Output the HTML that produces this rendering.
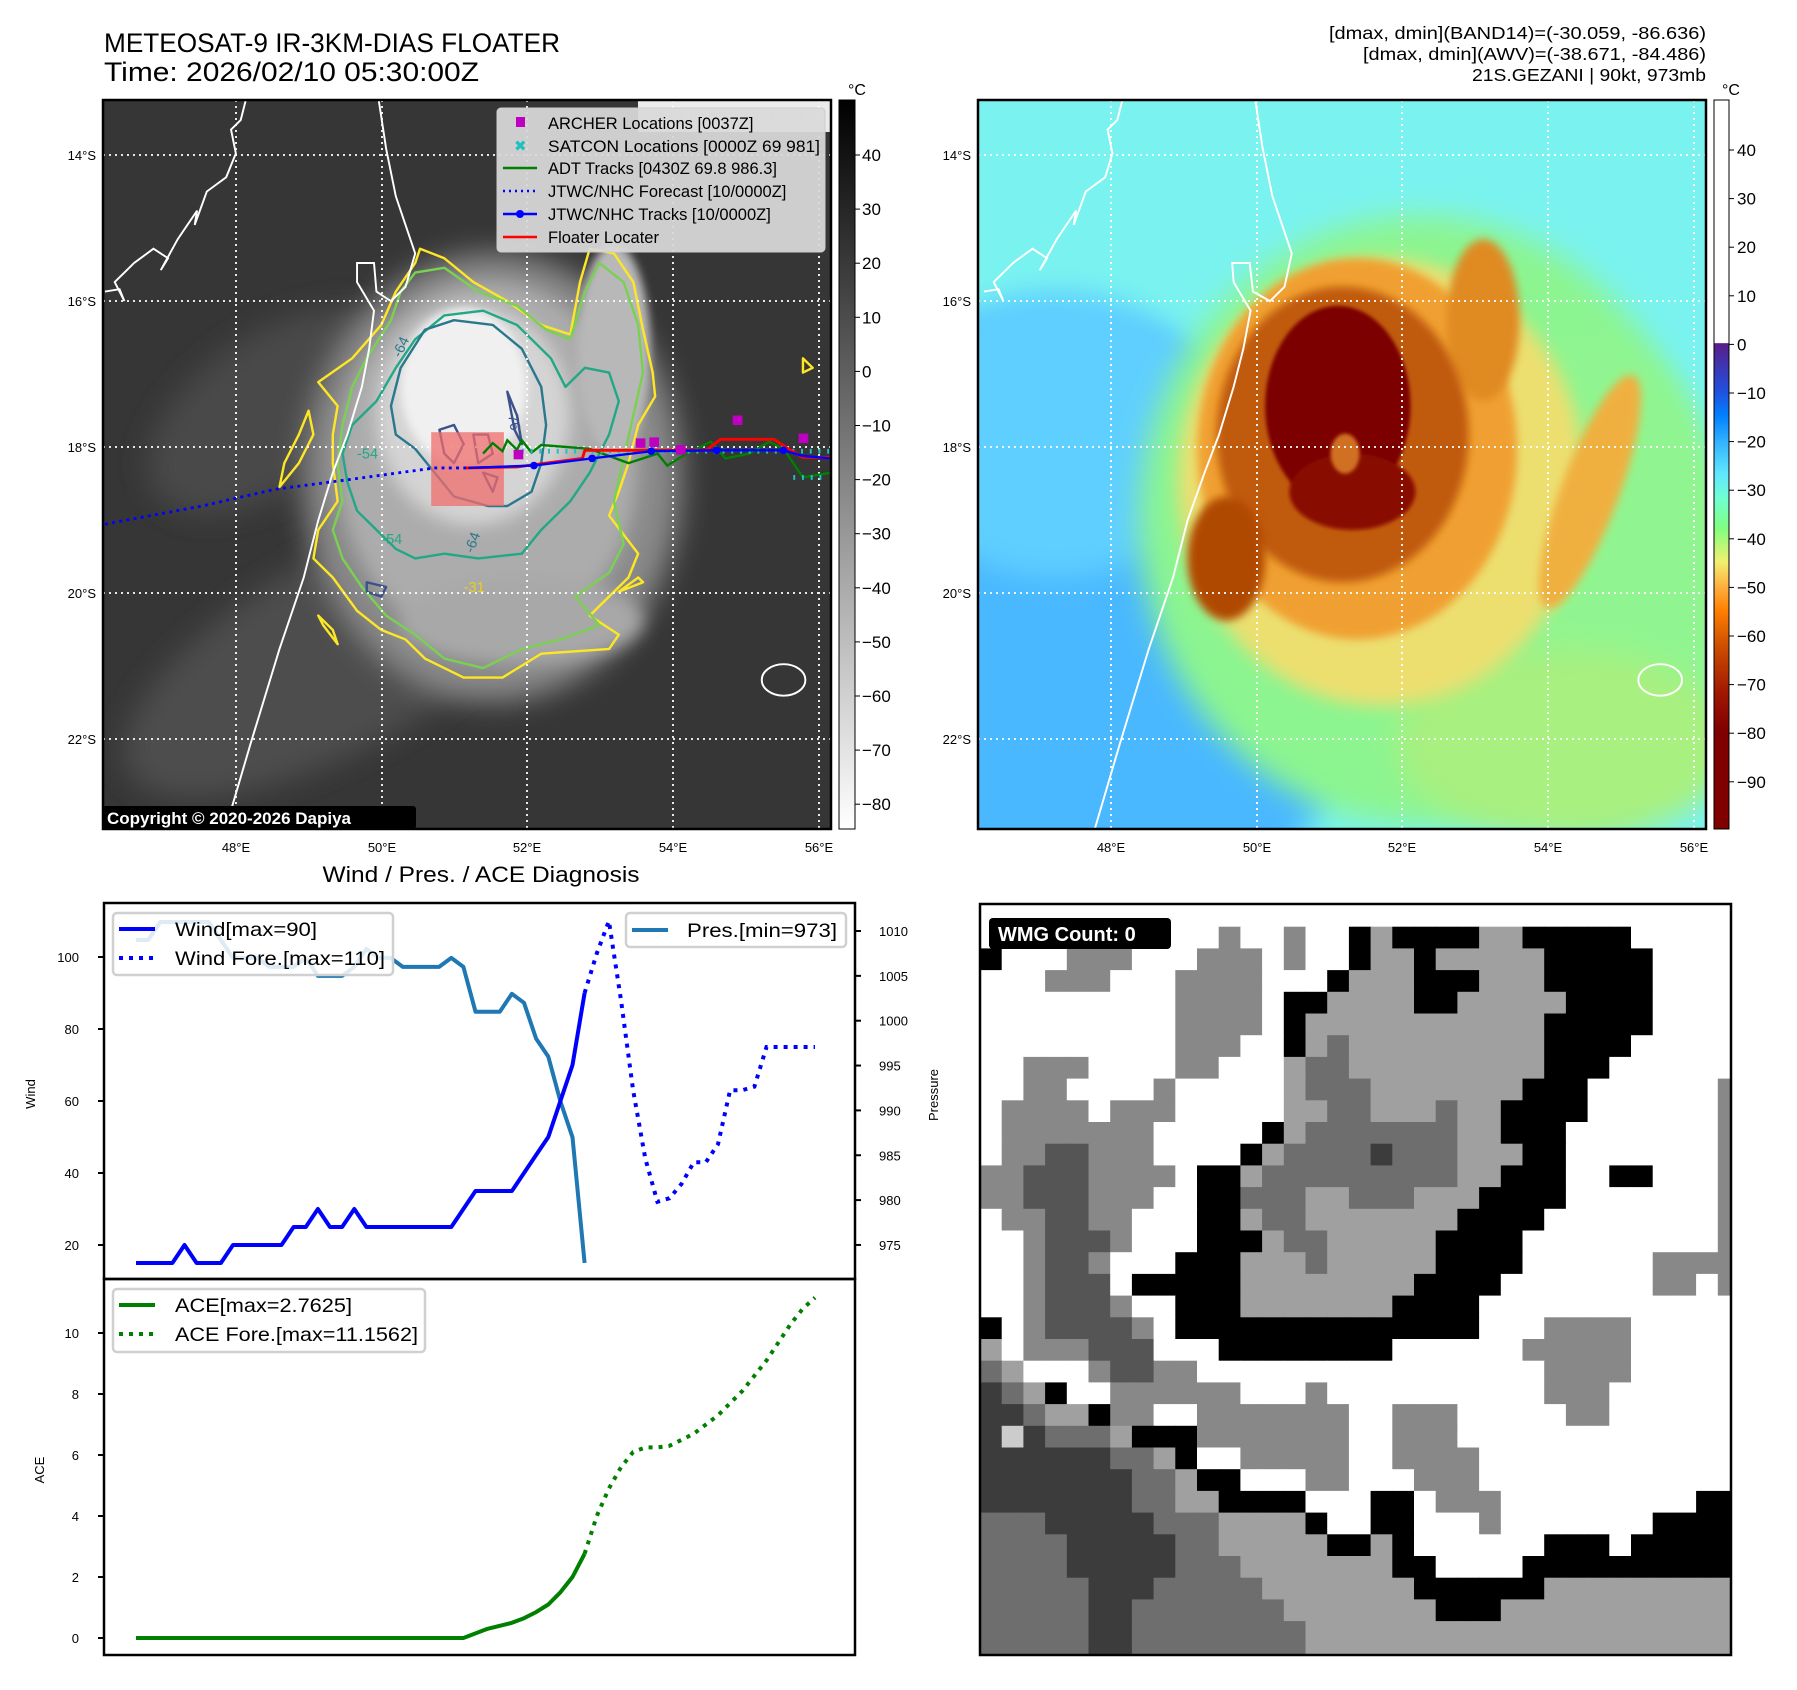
<!DOCTYPE html>
<html><head><meta charset="utf-8"><title>Gezani diagnostics</title>
<style>
html,body{margin:0;padding:0;background:#fff;}
svg{display:block;font-family:"Liberation Sans","DejaVu Sans",sans-serif;}
</style></head>
<body>
<svg id="root" width="1797" height="1690" viewBox="0 0 1797 1690" xmlns="http://www.w3.org/2000/svg">
<defs>
  <clipPath id="clipL"><rect x="103" y="100" width="728" height="729"/></clipPath>
  <clipPath id="clipR"><rect x="978" y="100" width="728" height="729"/></clipPath>
  <clipPath id="clipW"><rect x="980" y="904" width="751" height="751"/></clipPath>
  <filter id="b60" x="-50%" y="-50%" width="200%" height="200%"><feGaussianBlur stdDeviation="30"/></filter>
  <filter id="b30" x="-50%" y="-50%" width="200%" height="200%"><feGaussianBlur stdDeviation="18"/></filter>
  <filter id="b15" x="-50%" y="-50%" width="200%" height="200%"><feGaussianBlur stdDeviation="9"/></filter>
  <filter id="b6" x="-50%" y="-50%" width="200%" height="200%"><feGaussianBlur stdDeviation="4"/></filter>
  <linearGradient id="cb1" x1="0" y1="0" x2="0" y2="1">
    <stop offset="0" stop-color="#000"/><stop offset="1" stop-color="#fff"/>
  </linearGradient>
  <linearGradient id="cb2" x1="0" y1="0" x2="0" y2="1">
    <stop offset="0" stop-color="#fff"/><stop offset="0.333" stop-color="#fff"/>
    <stop offset="0.334" stop-color="#5a1e8a"/><stop offset="0.40" stop-color="#2050e0"/>
    <stop offset="0.433" stop-color="#0080ff"/><stop offset="0.467" stop-color="#30b0ff"/>
    <stop offset="0.513" stop-color="#60e8ff"/><stop offset="0.547" stop-color="#70ffd0"/>
    <stop offset="0.587" stop-color="#80ff80"/><stop offset="0.633" stop-color="#f0f070"/>
    <stop offset="0.667" stop-color="#ffb040"/><stop offset="0.70" stop-color="#ff8000"/>
    <stop offset="0.747" stop-color="#d05000"/><stop offset="0.813" stop-color="#a01800"/>
    <stop offset="0.867" stop-color="#800000"/><stop offset="1" stop-color="#800000"/>
  </linearGradient>
</defs>

<!-- titles -->
<text x="104" y="52" font-size="27" textLength="456" lengthAdjust="spacingAndGlyphs">METEOSAT-9 IR-3KM-DIAS FLOATER</text>
<text x="104" y="81" font-size="27" textLength="375" lengthAdjust="spacingAndGlyphs">Time: 2026/02/10 05:30:00Z</text>
<g font-size="17.5" text-anchor="end">
  <text x="1706" y="39" textLength="377" lengthAdjust="spacingAndGlyphs">[dmax, dmin](BAND14)=(-30.059, -86.636)</text>
  <text x="1706" y="60" textLength="343" lengthAdjust="spacingAndGlyphs">[dmax, dmin](AWV)=(-38.671, -84.486)</text>
  <text x="1706" y="81" textLength="234" lengthAdjust="spacingAndGlyphs">21S.GEZANI | 90kt, 973mb</text>
</g>

<!-- LEFT MAP -->
<g>
<g clip-path="url(#clipL)">
  <rect x="103" y="100" width="728" height="729" fill="#363636"/>
  <g transform="translate(105,101) scale(0.4847,0.4765)">
    <ellipse cx="500" cy="1150" rx="520" ry="200" transform="rotate(-30 500 1150)" fill="#4e4e4e" filter="url(#b60)"/>
    <ellipse cx="350" cy="650" rx="300" ry="160" transform="rotate(-35 350 650)" fill="#4a4a4a" filter="url(#b60)"/>
    <ellipse cx="800" cy="790" rx="390" ry="470" fill="#8a8a8a" filter="url(#b60)"/>
    <ellipse cx="790" cy="760" rx="310" ry="380" fill="#acacac" filter="url(#b30)"/>
    <ellipse cx="1050" cy="520" rx="75" ry="220" fill="#b8b8b8" filter="url(#b15)"/>
    <ellipse cx="860" cy="1090" rx="250" ry="90" fill="#a8a8a8" filter="url(#b30)"/>
    <ellipse cx="760" cy="660" rx="200" ry="230" fill="#d4d4d4" filter="url(#b30)"/>
    <ellipse cx="740" cy="600" rx="130" ry="165" fill="#f0f0f0" filter="url(#b15)"/>
    <g fill="none" stroke-width="5" stroke-linejoin="round">
      <path stroke="#fde725" d="M650,310 L700,330 760,380 830,420 900,470 960,490 980,380 1000,310 1050,320 1090,380 1110,480 1130,570 1135,620 1100,680 1080,760 1060,820 1040,870 1100,950 1080,1000 1000,1080 1060,1120 1040,1150 900,1160 820,1210 740,1210 660,1170 620,1130 570,1110 520,1070 470,1000 430,960 440,900 480,840 470,760 470,700 480,640 440,590 510,540 570,470 600,400 640,340 Z"/>
      <path stroke="#fde725" d="M360,810 L400,760 430,700 420,650 400,700 370,760 Z M440,1080 L470,1110 480,1140 450,1100 Z M1440,540 L1460,560 1440,570 Z M1100,1000 L1060,1030 1110,1010 Z"/>
      <path stroke="#7ad151" d="M640,360 L700,350 770,400 850,430 910,480 960,500 990,400 1020,340 1070,380 1100,470 1110,570 1090,660 1070,750 1050,840 1070,930 1040,990 970,1040 1020,1100 940,1130 860,1150 780,1190 700,1170 640,1120 580,1080 530,1020 490,960 470,900 490,840 480,760 490,680 510,600 540,540 590,460 610,400 Z"/>
      <path stroke="#22a884" d="M600,560 L640,500 700,450 780,440 850,470 920,540 950,600 990,560 1040,570 1060,630 1040,700 1000,780 960,840 900,900 860,950 770,960 700,950 640,960 600,940 560,900 520,860 500,800 490,740 510,680 560,630 Z"/>
      <path stroke="#2a788e" d="M610,560 L660,480 720,460 800,470 860,520 900,600 910,680 900,760 880,820 830,850 790,850 720,830 680,780 640,730 600,700 590,640 Z"/>
      <path stroke="#3b528b" d="M690,690 L720,680 740,720 720,760 700,740 Z M760,700 L790,700 800,740 770,760 Z M830,610 L850,660 860,720 845,690 Z M780,780 L810,790 800,820 Z M540,1010 L580,1020 570,1040 540,1030 Z"/>
    </g>
    <g font-size="30">
      <text x="610" y="540" fill="#2a788e" transform="rotate(-65 610 540)">-64</text>
      <text x="830" y="650" fill="#3b528b" transform="rotate(80 830 650)">-76</text>
      <text x="520" y="750" fill="#22a884">-54</text>
      <text x="570" y="930" fill="#22a884">-54</text>
      <text x="740" y="1030" fill="#e8d020">-31</text>
      <text x="760" y="950" fill="#2a788e" transform="rotate(-70 760 950)">-64</text>
    </g>
    <g fill="none" stroke="#fff" stroke-width="4">
      <path d="M245,1540 L300,1350 360,1150 410,1000 440,880 470,780 500,700 530,600 545,520 555,440 520,380 520,340 555,340 560,400 590,420 620,390 640,320 620,260 600,200 580,100 565,0"/>
      <path d="M0,400 L30,395 40,420 20,380 60,340 100,310 130,330 115,355 150,290 190,230 185,260 210,190 250,160 270,110 260,60 280,40 290,0"/>
      <ellipse cx="1400" cy="1215" rx="45" ry="33"/>
    </g>
  </g>
  <g stroke="#fff" stroke-width="1.8" stroke-dasharray="2,4">
    <line x1="236" y1="100" x2="236" y2="829"/><line x1="382" y1="100" x2="382" y2="829"/>
    <line x1="527" y1="100" x2="527" y2="829"/><line x1="673" y1="100" x2="673" y2="829"/>
    <line x1="819" y1="100" x2="819" y2="829"/>
    <line x1="103" y1="155" x2="831" y2="155"/><line x1="103" y1="301" x2="831" y2="301"/>
    <line x1="103" y1="447" x2="831" y2="447"/><line x1="103" y1="593" x2="831" y2="593"/>
    <line x1="103" y1="739" x2="831" y2="739"/>
  </g>
  <g transform="translate(105,101) scale(0.4847,0.4765)">
    <rect x="673" y="695" width="150" height="155" fill="rgb(240,110,110)" fill-opacity="0.75"/>
    <path d="M0,888 L200,850 350,815 500,795 680,770 750,770" fill="none" stroke="#00f" stroke-width="6" stroke-dasharray="6,9"/>
    <path d="M780,740 L800,718 820,735 830,712 850,732 860,712 880,738 900,722 1000,730 1080,760 1140,740 1160,765 1200,740 1250,715 1280,750 1330,740 1370,715 1400,730 1440,790 1497,780" fill="none" stroke="#008000" stroke-width="5"/>
    <path d="M860,735 L1497,735 M1420,790 L1490,790" fill="none" stroke="#1fc0c0" stroke-width="10" stroke-dasharray="4,14"/>
    <path d="M745,770 L850,768 985,750 990,733 1240,733 1270,710 1380,710 1410,730 1440,748 1497,748" fill="none" stroke="#f00" stroke-width="6"/>
    <path d="M750,770 L885,765 1005,750 1127,735 1262,733 1400,733 1440,745 1497,750" fill="none" stroke="#00f" stroke-width="5"/>
    <g fill="#00f"><circle cx="885" cy="765" r="8"/><circle cx="1005" cy="750" r="8"/><circle cx="1127" cy="735" r="8"/><circle cx="1262" cy="733" r="8"/><circle cx="1400" cy="733" r="8"/></g>
    <g fill="#c000c0"><rect x="843" y="732" width="20" height="20"/><rect x="1095" y="708" width="20" height="20"/><rect x="1123" y="706" width="20" height="20"/><rect x="1178" y="722" width="20" height="20"/><rect x="1295" y="660" width="20" height="20"/><rect x="1431" y="698" width="20" height="20"/></g>
  </g>
  <rect x="638" y="100" width="192" height="32" fill="#fff" fill-opacity="0.9"/>
  <text x="652" y="124" font-size="17" font-weight="bold" fill="#ddd">© EUMETSAT 2026</text>
</g>
<rect x="103" y="100" width="728" height="729" fill="none" stroke="#000" stroke-width="2.5"/>
<!-- legend -->
<g>
  <rect x="497" y="108" width="328" height="144" rx="4" fill="#d9d9d9" fill-opacity="0.93" stroke="#ccc"/>
  <g font-size="16.5">
    <rect x="516" y="117" width="9" height="10" fill="#c000c0"/><text x="548" y="129">ARCHER Locations [0037Z]</text>
    <text x="514" y="151" fill="#1fc0c0" font-weight="bold" font-size="15">✖</text><text x="548" y="152" textLength="272" lengthAdjust="spacingAndGlyphs">SATCON Locations [0000Z 69 981]</text>
    <line x1="503" y1="168" x2="537" y2="168" stroke="#008000" stroke-width="2.5"/><text x="548" y="174">ADT Tracks [0430Z 69.8 986.3]</text>
    <line x1="503" y1="191" x2="537" y2="191" stroke="#00f" stroke-width="2.5" stroke-dasharray="2,4"/><text x="548" y="197">JTWC/NHC Forecast [10/0000Z]</text>
    <line x1="503" y1="214" x2="537" y2="214" stroke="#00f" stroke-width="2.5"/><circle cx="520" cy="214" r="4" fill="#00f"/><text x="548" y="220">JTWC/NHC Tracks [10/0000Z]</text>
    <line x1="503" y1="237" x2="537" y2="237" stroke="#f00" stroke-width="2.5"/><text x="548" y="243">Floater Locater</text>
  </g>
</g>
<rect x="103" y="806" width="313" height="23" rx="3" fill="#000"/>
<text x="107" y="824" font-size="17" font-weight="bold" fill="#fff">Copyright © 2020-2026 Dapiya</text>
<g font-size="13" text-anchor="end">
  <text x="96" y="160">14°S</text><text x="96" y="306">16°S</text><text x="96" y="452">18°S</text><text x="96" y="598">20°S</text><text x="96" y="744">22°S</text>
</g>
<g font-size="13" text-anchor="middle">
  <text x="236" y="852">48°E</text><text x="382" y="852">50°E</text><text x="527" y="852">52°E</text><text x="673" y="852">54°E</text><text x="819" y="852">56°E</text>
</g>
<!-- colorbar 1 -->
<g>
  <rect x="839" y="100" width="16" height="729" fill="url(#cb1)" stroke="#000" stroke-width="1"/>
  <text x="848" y="95" font-size="16">°C</text>
  <g id="cb1ticks" font-size="17"></g>
</g>

<!-- RIGHT MAP -->
<g>
<g clip-path="url(#clipR)">
  <rect x="978" y="100" width="728" height="729" fill="#7af3f0"/>
  <g transform="translate(984,101) scale(0.4847,0.4765)">
    <ellipse cx="120" cy="1150" rx="650" ry="700" fill="#48b8ff" filter="url(#b60)"/>
    <ellipse cx="150" cy="700" rx="350" ry="300" fill="#5fcfff" filter="url(#b60)"/>
    <ellipse cx="900" cy="880" rx="580" ry="640" fill="#8cf590" filter="url(#b60)"/>
    <ellipse cx="1250" cy="1000" rx="300" ry="500" fill="#90f590" filter="url(#b60)"/>
    <ellipse cx="1200" cy="1350" rx="350" ry="200" fill="#a8f080" filter="url(#b60)"/>
    <ellipse cx="820" cy="800" rx="420" ry="470" fill="#ecdf70" filter="url(#b30)"/>
    <ellipse cx="770" cy="730" rx="330" ry="400" fill="#f0a030" filter="url(#b15)"/>
    <ellipse cx="1030" cy="460" rx="75" ry="170" fill="#e08a20" filter="url(#b15)"/>
    <ellipse cx="1250" cy="820" rx="60" ry="260" fill="#f0b040" filter="url(#b15)" transform="rotate(20 1250 820)"/>
    <ellipse cx="740" cy="700" rx="260" ry="310" fill="#c05a08" filter="url(#b15)"/>
    <ellipse cx="500" cy="960" rx="80" ry="130" fill="#b04a00" filter="url(#b15)"/>
    <ellipse cx="730" cy="640" rx="150" ry="210" fill="#7c0000" filter="url(#b6)"/>
    <ellipse cx="760" cy="820" rx="130" ry="80" fill="#880800" filter="url(#b6)"/>
    <ellipse cx="745" cy="740" rx="30" ry="42" fill="#d07020" filter="url(#b6)"/>
    <g fill="none" stroke="#fff" stroke-width="4">
      <path d="M225,1540 L280,1350 340,1150 390,1000 420,880 455,780 485,700 515,600 535,520 550,440 515,380 512,340 548,340 555,400 590,420 620,390 635,320 615,260 595,200 575,100 560,0"/>
      <path d="M0,400 L30,395 40,420 20,380 60,340 100,310 130,330 115,355 150,290 190,230 185,260 210,190 250,160 265,110 255,60 275,40 285,0"/>
      <ellipse cx="1395" cy="1215" rx="45" ry="33"/>
    </g>
  </g>
  <g stroke="#fff" stroke-width="1.8" stroke-dasharray="2,4">
    <line x1="1111" y1="100" x2="1111" y2="829"/><line x1="1257" y1="100" x2="1257" y2="829"/>
    <line x1="1402" y1="100" x2="1402" y2="829"/><line x1="1548" y1="100" x2="1548" y2="829"/>
    <line x1="1694" y1="100" x2="1694" y2="829"/>
    <line x1="978" y1="155" x2="1706" y2="155"/><line x1="978" y1="301" x2="1706" y2="301"/>
    <line x1="978" y1="447" x2="1706" y2="447"/><line x1="978" y1="593" x2="1706" y2="593"/>
    <line x1="978" y1="739" x2="1706" y2="739"/>
  </g>
</g>
<rect x="978" y="100" width="728" height="729" fill="none" stroke="#000" stroke-width="2.5"/>
</g>
<g font-size="13" text-anchor="end">
  <text x="971" y="160">14°S</text><text x="971" y="306">16°S</text><text x="971" y="452">18°S</text><text x="971" y="598">20°S</text><text x="971" y="744">22°S</text>
</g>
<g font-size="13" text-anchor="middle">
  <text x="1111" y="852">48°E</text><text x="1257" y="852">50°E</text><text x="1402" y="852">52°E</text><text x="1548" y="852">54°E</text><text x="1694" y="852">56°E</text>
</g>
<g>
  <rect x="1714" y="100" width="15" height="729" fill="url(#cb2)" stroke="#000" stroke-width="1"/>
  <text x="1722" y="95" font-size="16">°C</text>
  <g id="cb2ticks" font-size="17"></g>
</g>

<!-- DIAGNOSIS CHART -->
<text x="481" y="882" font-size="22" text-anchor="middle" textLength="317" lengthAdjust="spacingAndGlyphs">Wind / Pres. / ACE Diagnosis</text>
<g id="chart"></g>

<!-- WMG -->
<g>
  <g id="wmg" clip-path="url(#clipW)"></g>
  <rect x="980" y="904" width="751" height="751" fill="none" stroke="#000" stroke-width="2.5"/>
  <rect x="989" y="918" width="182" height="31" rx="4" fill="#000"/>
  <text x="998" y="941" font-size="20" font-weight="bold" fill="#fff">WMG Count: 0</text>
</g>
</svg>

<script>
// ---- chart data ----
const windObs = [15,15,15,15,20,15,15,15,20,20,20,20,20,25,25,30,25,25,30,25,25,25,25,25,25,25,25,30,35,35,35,35,40,45,50,60,70,90];
const windFcst = [90,101,110,88,63,44,32,33,37,43,43,48,63,63,64,75,75,75,75,75];
const presObs = [1009,1009,1011,1011,1011,1011,1011,1009,1007,1007,1007,1006,1006,1006,1007,1005,1005,1005,1006,1008,1007,1007,1006,1006,1006,1006,1007,1006,1001,1001,1001,1003,1002,998,996,991,987,973];
const aceObs = [0,0,0,0,0,0,0,0,0,0,0,0,0,0,0,0,0,0,0,0,0,0,0,0,0,0,0,0,0.15,0.3,0.4,0.5,0.65,0.85,1.1,1.5,2.0,2.76];
const aceFcst = [2.76,4.0,4.9,5.6,6.1,6.25,6.25,6.3,6.5,6.7,7.0,7.3,7.7,8.1,8.6,9.1,9.7,10.3,10.8,11.16];
const windTicks = [20,40,60,80,100];
const presTicks = [975,980,985,990,995,1000,1005,1010];
const aceTicks = [0,2,4,6,8,10];
const cb1Ticks = [40,30,20,10,0,-10,-20,-30,-40,-50,-60,-70,-80];
const cb2Ticks = [40,30,20,10,0,-10,-20,-30,-40,-50,-60,-70,-80,-90];
const wmgRows = [
"...................................",
"...........g..g..#a####aa#####.....",
"#...ggg...ggg.g..#aa#aaaaa#####....",
"...ggg...gggg...#aaa###aaa#####....",
".........gggg.##aaaa##aaaaa####....",
".........gggg.#aaaaaaaaaaa#####....",
".........ggg..#amaaaaaaaaa####.....",
"..ggg....gg...ammaaaaaaaaa###......",
"..gg....g.....ammmaaaaaaa###......g",
".gggg.ggg.....aammaaamaa####......g",
".ggggggg.....#ammmmmmmaa###.......g",
".ggddggg....#ammmmkmmmaaa##.......g",
"ggdddgggg.##ammmmmmmmmaa###..##...g",
"ggdddggg..##mmmaammmaaa####.......g",
".ggddgg...##ammaaaaaaa####........g",
"..gdddg...###ammaaaaa####.........g",
"..gddg...###aaamaaaaa####......gggg",
"..gddd.#####aaaaaaaa####.......gg.g",
"..gdddg..###aaaaaaa####............",
"#.gddddg.##############...gggg.....",
"a.gggddd...########......ggggg.....",
"ma...gddgg................gggg.....",
"kma#..gggggg...g..........ggg......",
"kkmaa#gg..ggggggg..ggg.....gg......",
"klkmmma###ggggggg..ggg.............",
"kkkkkkmma#..ggggg..gggg............",
"kkkkkkkmma##...gg...ggg............",
"kkkkkkkmmaa####...##.ggg.........##",
"mmmkkkkkmmmaaaa#..##...g.......####",
"mmmmkkkkkmmaaaaa##a#......###.#####",
"mmmmkkkkkmmmaaaaaaa##....##########",
"mmmmmkkkmmmmmaaaaaaa######aaaaaaaaa",
"mmmmmkkmmmmmmmaaaaaaa###aaaaaaaaaaa",
"mmmmmkkmmmmmmmmaaaaaaaaaaaaaaaaaaaa",
"mmmmmkkmmmmmmmmaaaaaaaaaaaaaaaaaaaa"];

const NS = "http://www.w3.org/2000/svg";
function mk(parent, tag, attrs){const e=document.createElementNS(NS,tag);for(const k in attrs)e.setAttribute(k,attrs[k]);parent.appendChild(e);return e;}

// axis functions
const xL=104, xR=855, yTop=903, ySplit=1279, yBot=1655;
function xs(i){return 136 + i*(815-136)/56;}
function yWind(v){return 957 + (100-v)*3.6;}
function yPres(v){return 931 + (1010-v)*8.97;}
function yAce(v){return 1638 - v*30.5;}
function yCb1(v){return 155 + (40-v)*5.41;}
function yCb2(v){return 150 + (40-v)*4.86;}
function fmt(v){return v<0?"\u2212"+Math.abs(v):String(v);}

// colorbar ticks
const cb1 = document.getElementById('cb1ticks');
cb1Ticks.forEach(v=>{
  const l=mk(cb1,'line',{x1:855,x2:860,y1:yCb1(v),y2:yCb1(v),stroke:'#000','stroke-width':1});
  
  
  const t=mk(cb1,'text',{x:862,y:yCb1(v)+6});
  t.textContent=fmt(v);
  
  
});
const cb2 = document.getElementById('cb2ticks');
cb2Ticks.forEach(v=>{
  const l=mk(cb2,'line',{x1:1729,x2:1734,y1:yCb2(v),y2:yCb2(v),stroke:'#000','stroke-width':1});
  
  
  const t=mk(cb2,'text',{x:1737,y:yCb2(v)+6});
  t.textContent=fmt(v);
  
  
});

// chart
const ch = document.getElementById('chart');
function poly(pts, attrs, name){
  const p=mk(ch,'polyline',Object.assign({points:pts.map(q=>q[0].toFixed(1)+','+q[1].toFixed(1)).join(' '),fill:'none'},attrs));
  
  
  return p;
}
const off = windObs.length-1;
poly(presObs.map((v,i)=>[xs(i),yPres(v)]),{stroke:'#1f77b4','stroke-width':4,'stroke-linejoin':'round'},'pressure-line');
poly(windObs.map((v,i)=>[xs(i),yWind(v)]),{stroke:'#0000ff','stroke-width':4,'stroke-linejoin':'round'},'wind-line');
poly(windFcst.map((v,i)=>[xs(i+off),yWind(v)]),{stroke:'#0000ff','stroke-width':4,'stroke-dasharray':'4,6'},'wind-forecast-line');
poly(aceObs.map((v,i)=>[xs(i),yAce(v)]),{stroke:'#008000','stroke-width':4,'stroke-linejoin':'round'},'ace-line');
poly(aceFcst.map((v,i)=>[xs(i+off),yAce(v)]),{stroke:'#008000','stroke-width':4,'stroke-dasharray':'4,6'},'ace-forecast-line');

windTicks.forEach(v=>{
  const l=mk(ch,'line',{x1:98,x2:104,y1:yWind(v),y2:yWind(v),stroke:'#000','stroke-width':2});
  
  
  const t=mk(ch,'text',{x:79,y:yWind(v)+5,'font-size':13,'text-anchor':'end'});
  t.textContent=v;
  
  
});
presTicks.forEach(v=>{
  const l=mk(ch,'line',{x1:855,x2:861,y1:yPres(v),y2:yPres(v),stroke:'#000','stroke-width':2});
  
  
  const t=mk(ch,'text',{x:879,y:yPres(v)+5,'font-size':13});
  t.textContent=v;
  
  
});
aceTicks.forEach(v=>{
  const l=mk(ch,'line',{x1:98,x2:104,y1:yAce(v),y2:yAce(v),stroke:'#000','stroke-width':2});
  
  
  const t=mk(ch,'text',{x:79,y:yAce(v)+5,'font-size':13,'text-anchor':'end'});
  t.textContent=v;
  
  
});
// frames
const f1=mk(ch,'rect',{x:xL,y:yTop,width:xR-xL,height:ySplit-yTop,fill:'none',stroke:'#000','stroke-width':2.5});


const f2=mk(ch,'rect',{x:xL,y:ySplit,width:xR-xL,height:yBot-ySplit,fill:'none',stroke:'#000','stroke-width':2.5});


// axis titles
function label(x,y,txt,name){
  const t=mk(ch,'text',{x:x,y:y,'font-size':13,'text-anchor':'middle',transform:'rotate(-90 '+x+' '+y+')'});
  t.textContent=txt;
  
  
}
label(35,1094,'Wind','wind-axis-title');
label(938,1095,'Pressure','pressure-axis-title');
label(44,1470,'ACE','ace-axis-title');
// legends
function legendBox(x,y,w,h,name){
  const r=mk(ch,'rect',{x:x,y:y,width:w,height:h,rx:4,fill:'#fff','fill-opacity':0.85,stroke:'#d0d0d0','stroke-width':2.5});
  
  
}
function legendEntry(x1,y,color,dash,txt,tx,tl,name){
  const a={x1:x1,x2:x1+36,y1:y,y2:y,stroke:color,'stroke-width':4};
  if(dash)a['stroke-dasharray']='4,6';
  const l=mk(ch,'line',a);
  
  
  const t=mk(ch,'text',{x:tx,y:y+7,'font-size':19.5,textLength:tl,lengthAdjust:'spacingAndGlyphs'});
  t.textContent=txt;
  
  
}
legendBox(113,913,280,62,'wind-legend');
legendEntry(119,929,'#0000ff',false,'Wind[max=90]',175,142,'legend-wind');
legendEntry(119,958,'#0000ff',true,'Wind Fore.[max=110]',175,210,'legend-wind-forecast');
legendBox(626,913,220,34,'pressure-legend');
legendEntry(632,930,'#1f77b4',false,'Pres.[min=973]',687,150,'legend-pressure');
legendBox(113,1289,312,63,'ace-legend');
legendEntry(119,1305,'#008000',false,'ACE[max=2.7625]',175,177,'legend-ace');
legendEntry(119,1334,'#008000',true,'ACE Fore.[max=11.1562]',175,243,'legend-ace-forecast');

// WMG grid
const colors={'.':'#ffffff','a':'#a0a0a0','g':'#888888','m':'#6e6e6e','d':'#555555','k':'#3c3c3c','#':'#000000','l':'#cccccc'};
const wmg=document.getElementById('wmg');
const cs=21.7;
wmgRows.forEach((row,r)=>{
  for(let c=0;c<row.length;c++){
    const ch2=row[c];
    const cell=mk(wmg,'rect',{x:(980+c*cs).toFixed(2),y:(905+r*cs).toFixed(2),width:cs+0.6,height:cs+0.6,fill:colors[ch2]||'#fff'});
    
    
  }
});
</script>
</body></html>
